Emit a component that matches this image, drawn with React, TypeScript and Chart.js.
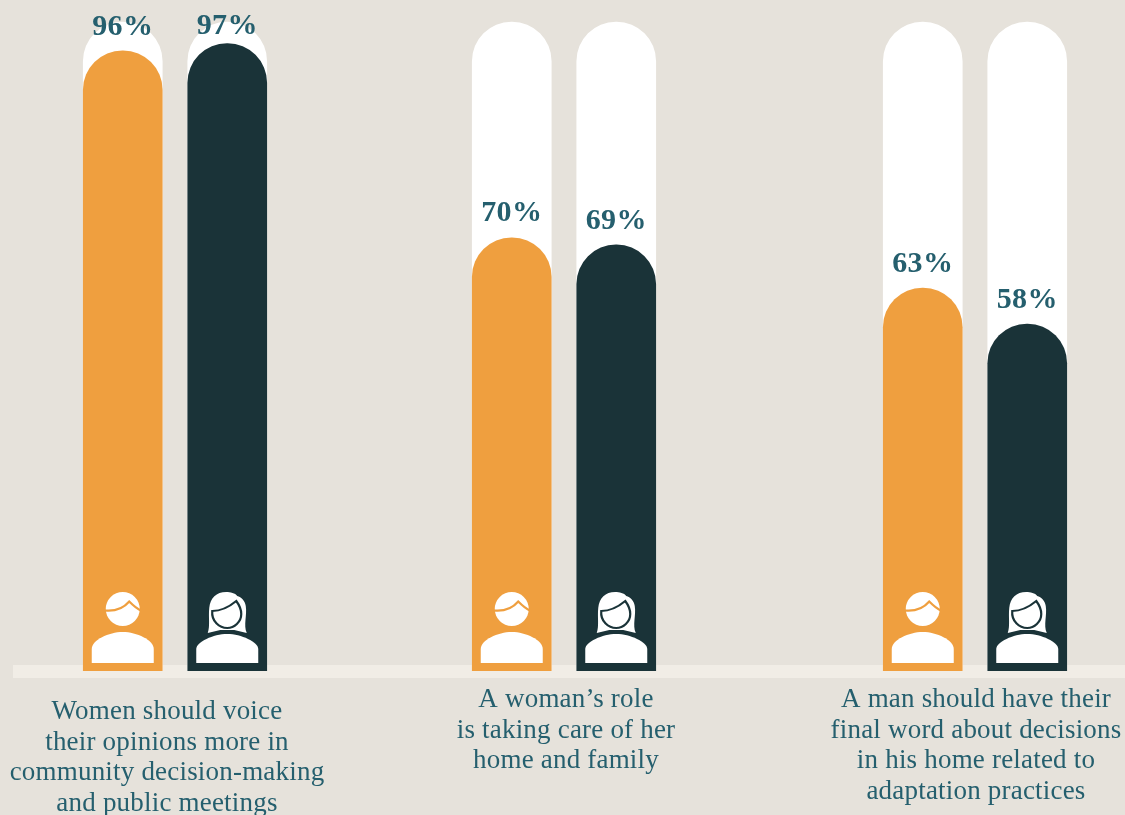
import React, { useEffect, useRef } from "react";
import { Chart, registerables } from "chart.js";

Chart.register(...registerables);

const categories: string[][] = [
  ["Women should voice", "their opinions more in", "community decision-making", "and public meetings"],
  ["A woman’s role", "is taking care of her", "home and family"],
  ["A man should have their", "final word about decisions", "in his home related to", "adaptation practices"],
];
const menValues = [96, 70, 63];
const womenValues = [97, 69, 58];
const fullScale = [100, 100, 100];

const BG = "#e6e2db";
const BAND = "#f1ede6";
const ORANGE = "#ef9f3f";
const DARK = "#1a3338";
const TEAL = "#255f6e";
const SERIF = '"Liberation Serif", serif';

const panels = [
  { left: 0, width: 350, padding: 18, labelOffset: -8 },
  { left: 394, width: 340, padding: 6, labelOffset: 2 },
  { left: 825, width: 300, padding: 6, labelOffset: 1 },
];

function drawBody(ctx: CanvasRenderingContext2D, top: number) {
  ctx.beginPath();
  ctx.moveTo(-31, -8);
  ctx.lineTo(-31, -22);
  ctx.bezierCurveTo(-31, top + 8, -14, top, 0, top);
  ctx.bezierCurveTo(14, top, 31, top + 8, 31, -22);
  ctx.lineTo(31, -8);
  ctx.closePath();
  ctx.fill();
}

function drawMan(ctx: CanvasRenderingContext2D, fill: string) {
  ctx.fillStyle = "#fff";
  ctx.beginPath();
  ctx.arc(0, -62, 17, 0, Math.PI * 2);
  ctx.fill();
  ctx.strokeStyle = fill;
  ctx.lineWidth = 2.2;
  ctx.beginPath();
  ctx.moveTo(-18, -60.5);
  ctx.bezierCurveTo(-8, -59.5, 1, -63, 6.5, -69.5);
  ctx.bezierCurveTo(9, -67, 13, -63, 18, -60.5);
  ctx.stroke();
  drawBody(ctx, -39);
}

function drawWoman(ctx: CanvasRenderingContext2D, fill: string) {
  ctx.fillStyle = "#fff";
  ctx.beginPath();
  ctx.moveTo(-1, -79);
  ctx.bezierCurveTo(-11, -79, -17, -73, -18, -63);
  ctx.bezierCurveTo(-19, -54, -17, -45, -19.5, -38);
  ctx.lineTo(-7, -41);
  ctx.lineTo(7, -41);
  ctx.lineTo(19.5, -38);
  ctx.bezierCurveTo(16, -46, 20, -56, 18.5, -65);
  ctx.bezierCurveTo(18, -70, 14, -74, 10, -75);
  ctx.bezierCurveTo(8, -78, 3, -79, -1, -79);
  ctx.closePath();
  ctx.fill();
  ctx.strokeStyle = fill;
  ctx.lineWidth = 2.2;
  ctx.beginPath();
  ctx.moveTo(-15, -60);
  ctx.bezierCurveTo(-6, -60, 3, -65, 9, -70);
  ctx.bezierCurveTo(12, -66, 14, -61, 14, -57);
  ctx.bezierCurveTo(14, -49, 7, -43, 0, -43);
  ctx.bezierCurveTo(-8, -43, -16, -50, -15, -60);
  ctx.closePath();
  ctx.stroke();
  drawBody(ctx, -37);
}

const overlayPlugin = {
  id: "barOverlay",
  beforeDraw(chart: any) {
    chart.ctx.letterSpacing = "0.2px";
  },
  afterDatasetsDraw(chart: any) {
    const ctx: CanvasRenderingContext2D = chart.ctx;
    [0, 1].forEach((datasetIndex) => {
      const bar = chart.getDatasetMeta(datasetIndex).data[0];
      const ds = chart.data.datasets[datasetIndex];
      const value = ds.data[0];
      ctx.save();
      ctx.translate(bar.x, chart.chartArea.bottom);
      if (datasetIndex === 0) drawMan(ctx, ORANGE);
      else drawWoman(ctx, DARK);
      ctx.restore();
      ctx.save();
      ctx.font = `bold 30px ${SERIF}`;
      ctx.letterSpacing = "0.3px";
      ctx.fillStyle = TEAL;
      ctx.textAlign = "center";
      ctx.textBaseline = "middle";
      ctx.fillText(`${value}%`, bar.x, Math.max(26, bar.y - 24));
      ctx.restore();
    });
  },
};

function Panel({ index }: { index: number }) {
  const ref = useRef<HTMLCanvasElement>(null);
  const panel = panels[index];
  useEffect(() => {
    const barShape = {
      barThickness: 104.5,
      maxBarThickness: 79,
      borderSkipped: false,
      borderRadius: { topLeft: 39.5, topRight: 39.5, bottomLeft: 0, bottomRight: 0 },
    };
    const chart = new Chart(ref.current!, {
      type: "bar",
      data: {
        labels: [categories[index]],
        datasets: [
          { label: "Men", data: [menValues[index]], backgroundColor: ORANGE, order: 1, stack: "men", ...barShape },
          { label: "Women", data: [womenValues[index]], backgroundColor: DARK, order: 1, stack: "women", ...barShape },
          { label: "Scale men", data: [fullScale[index]], backgroundColor: "#fff", order: 2, stack: "men", ...barShape },
          { label: "Scale women", data: [fullScale[index]], backgroundColor: "#fff", order: 2, stack: "women", ...barShape },
        ],
      } as any,
      options: {
        responsive: false,
        animation: false,
        layout: { autoPadding: false, padding: 0 },
        plugins: { legend: { display: false }, tooltip: { enabled: false } },
        scales: {
          x: {
            type: "category",
            offset: true,
            grid: { display: false },
            border: { display: false },
            afterFit: (s: any) => {
              s.height = 144;
            },
            ticks: {
              color: TEAL,
              font: { family: SERIF, size: 27, lineHeight: 30.5 / 27 },
              padding: panel.padding,
              labelOffset: panel.labelOffset,
              maxRotation: 0,
              minRotation: 0,
              autoSkip: false,
            },
          },
          y: { display: false, stacked: false, min: 9.74, max: 103.06 },
        },
      } as any,
      plugins: [overlayPlugin],
    });
    return () => chart.destroy();
  }, []);
  return (
    <canvas
      ref={ref}
      width={panel.width}
      height={815}
      style={{ position: "absolute", left: panel.left, top: 0, width: panel.width, height: 815 }}
    />
  );
}

export default function App() {
  return (
    <div style={{ position: "fixed", left: 0, top: 0, width: 1125, height: 815, background: BG, overflow: "hidden" }}>
      <div style={{ position: "absolute", left: 13, top: 665, width: 1112, height: 13, background: BAND }} />
      {categories.map((_, i) => (
        <Panel key={i} index={i} />
      ))}
    </div>
  );
}
